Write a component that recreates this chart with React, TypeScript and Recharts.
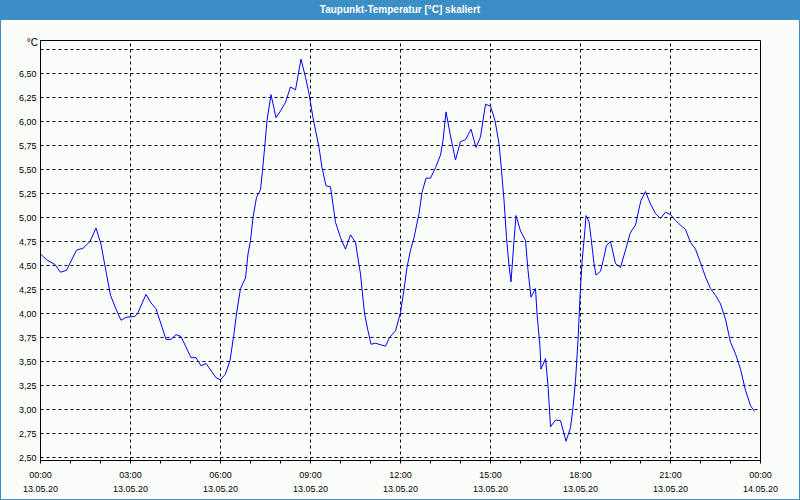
import { LineChart, Line, XAxis, YAxis, CartesianGrid, ReferenceLine, ReferenceArea } from 'recharts'

// minutes since 13.05.20 00:00
const minutes = [
  0, 12, 29, 40, 52, 72, 85, 99, 111, 121, 132, 140, 149, 161, 171, 189, 195, 211, 221, 231,
  251, 261, 271, 281, 301, 311, 321, 331, 351, 360, 370, 379, 387, 392, 400, 410, 415, 420, 425, 432,
  440, 444, 449, 453, 461, 471, 480, 490, 500, 510, 521, 530, 537, 545, 557, 563, 571, 580, 590, 600,
  610, 620, 630, 640, 648, 655, 661, 670, 690, 698, 710, 720, 727, 733, 740, 747, 757, 763, 771, 780,
  790, 800, 805, 811, 820, 830, 840, 850, 861, 871, 880, 890, 900, 909, 917, 922, 927, 932, 937, 941,
  947, 951, 960, 970, 975, 981, 990, 993, 999, 1001, 1010, 1015, 1020, 1030, 1040, 1051, 1060, 1065, 1070, 1075,
  1079, 1083, 1089, 1091, 1097, 1101, 1107, 1111, 1120, 1127, 1132, 1140, 1150, 1160, 1170, 1179, 1183, 1190, 1197, 1201,
  1210, 1220, 1230, 1240, 1250, 1260, 1270, 1280, 1290, 1300, 1310, 1320, 1330, 1340, 1350, 1360, 1370, 1380, 1390, 1400,
  1410, 1420, 1428,
]

const dewPoint = [
  4.62, 4.56, 4.51, 4.43, 4.45, 4.66, 4.68, 4.75, 4.89, 4.72, 4.41, 4.19, 4.07, 3.93, 3.96, 3.97, 4.01, 4.2, 4.11, 4.05,
  3.73, 3.73, 3.78, 3.76, 3.54, 3.54, 3.455, 3.48, 3.33, 3.31, 3.37, 3.51, 3.79, 4.0, 4.26, 4.37, 4.62, 4.76, 5.0, 5.21,
  5.29, 5.49, 5.77, 6.01, 6.28, 6.04, 6.11, 6.2, 6.36, 6.33, 6.65, 6.46, 6.29, 6.04, 5.73, 5.52, 5.33, 5.32, 4.95, 4.79,
  4.67, 4.82, 4.74, 4.41, 4.0, 3.82, 3.68, 3.69, 3.66, 3.75, 3.82, 4.01, 4.25, 4.48, 4.66, 4.79, 5.04, 5.26, 5.41, 5.41,
  5.52, 5.65, 5.8, 6.1, 5.85, 5.6, 5.79, 5.81, 5.92, 5.73, 5.84, 6.18, 6.16, 6.01, 5.77, 5.49, 5.18, 4.79, 4.5, 4.33,
  4.76, 5.02, 4.86, 4.76, 4.45, 4.17, 4.26, 4.0, 3.65, 3.42, 3.53, 3.25, 2.82, 2.89, 2.885, 2.67, 2.81, 3.02, 3.3, 3.72,
  4.17, 4.53, 4.88, 5.02, 4.96, 4.79, 4.52, 4.4, 4.44, 4.59, 4.71, 4.75, 4.52, 4.48, 4.66, 4.83, 4.87, 4.92, 5.09, 5.18,
  5.27, 5.14, 5.04, 4.99, 5.055, 5.03, 4.97, 4.92, 4.875, 4.74, 4.67, 4.53, 4.38, 4.26, 4.19, 4.1, 3.94, 3.7, 3.58, 3.42,
  3.2, 3.04, 2.98,
]

const hourTicks = [
  0, 60, 120, 180, 240, 300, 360, 420, 480, 540, 600, 660, 720, 780, 840, 900, 960, 1020, 1080, 1140,
  1200, 1260, 1320, 1380, 1440,
]
const majorTicks = [0, 180, 360, 540, 720, 900, 1080, 1260, 1440]
const timeLabels = ['00:00', '03:00', '06:00', '09:00', '12:00', '15:00', '18:00', '21:00', '00:00']
const dateLabels = ['13.05.20', '13.05.20', '13.05.20', '13.05.20', '13.05.20', '13.05.20', '13.05.20', '13.05.20', '14.05.20']
const yTicks = [2.5, 2.75, 3.0, 3.25, 3.5, 3.75, 4.0, 4.25, 4.5, 4.75, 5.0, 5.25, 5.5, 5.75, 6.0, 6.25, 6.5, 6.75]

const Y_MIN = 2.46875
const Y_MAX = 6.84375
const FONT = '"Liberation Sans", Arial, sans-serif'
const BLUE = '#3c8fc6'

const data = minutes.map((m, i) => ({ t: m, v: dewPoint[i] }))

function fmtY(v: number): string {
  if (v === 6.75) return ''
  return v.toFixed(2).replace('.', ',')
}

function TimeTick(props: any) {
  const { x, y, payload } = props
  const v = payload.value as number
  if (v % 180 !== 0) return <g />
  const i = v / 180
  return (
    <text x={x} y={y} textAnchor="middle" fontSize={9} fontFamily={FONT} fill="#000">
      <tspan x={x} dy={12}>{timeLabels[i]}</tspan>
      <tspan x={x} dy={14}>{dateLabels[i]}</tspan>
    </text>
  )
}

export default function App() {
  return (
    <div
      style={{
        position: 'fixed',
        left: 0,
        top: 0,
        width: 800,
        height: 500,
        boxSizing: 'border-box',
        border: `1px solid ${BLUE}`,
        borderTop: 'none',
        background: '#fbfdfb',
        fontFamily: FONT,
      }}
    >
      <div
        style={{
          height: 20,
          marginLeft: -1,
          marginRight: -1,
          background: BLUE,
          color: '#fff',
          fontWeight: 'bold',
          fontSize: 10,
          lineHeight: '20px',
          textAlign: 'center',
        }}
      >
        Taupunkt-Temperatur [°C] skaliert
      </div>
      <div
        style={{ position: 'absolute', left: 0, width: 37, top: 37, fontSize: 10, lineHeight: '12px', textAlign: 'right', color: '#000' }}
      >
        °C
      </div>
      {/* half-pixel margins keep the 1px grid lines crisp */}
      <div style={{ position: 'absolute', left: -1, top: 20 }}>
        <LineChart width={800} height={480} data={data} margin={{ top: 20.5, right: 39.5, left: 0.5, bottom: 0 }}>
          <CartesianGrid vertical={false} stroke="#000" strokeDasharray="3 3" horizontalValues={yTicks} />
          {majorTicks.slice(1, -1).map((m) => (
            <ReferenceLine key={m} x={m} stroke="#000" strokeDasharray="3 3" />
          ))}
          <ReferenceArea x1={0} x2={1440} y1={Y_MIN} y2={Y_MAX} fill="none" stroke="#000" strokeWidth={1} fillOpacity={0} />
          <XAxis
            dataKey="t"
            type="number"
            domain={[0, 1440]}
            ticks={hourTicks}
            interval={0}
            tick={<TimeTick />}
            tickSize={3}
            tickMargin={2}
            axisLine={{ stroke: '#000' }}
            tickLine={{ stroke: '#000' }}
            height={39.5}
          />
          <YAxis
            type="number"
            domain={[Y_MIN, Y_MAX]}
            ticks={yTicks}
            interval={0}
            tickFormatter={fmtY}
            tick={{ fill: '#000', fontSize: 9, fontFamily: FONT }}
            tickLine={false}
            tickSize={2}
            tickMargin={2}
            axisLine={{ stroke: '#000' }}
            width={40}
          />
          <Line
            type="linear"
            dataKey="v"
            stroke="#0000ff"
            strokeWidth={1}
            dot={false}
            isAnimationActive={false}
          />
        </LineChart>
      </div>
    </div>
  )
}
